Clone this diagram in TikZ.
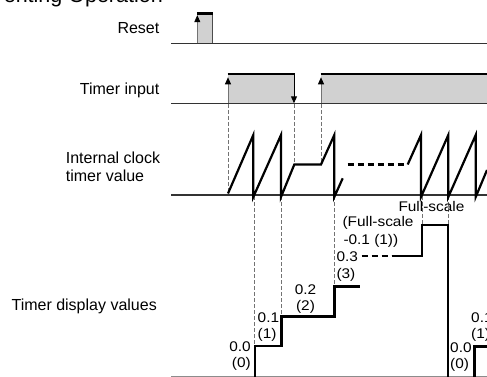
\documentclass[tikz,border=0pt]{standalone}
\usepackage{fontspec}
\setmainfont{Liberation Sans}
\newfontfamily\lblfont[FakeStretch=1.1]{Liberation Sans}
\usetikzlibrary{arrows.meta}
\begin{document}
\begin{tikzpicture}[x=1pt,y=-1pt,
  baseln/.style={line width=1.3pt, draw=black!80},
  dispbase/.style={line width=1.2pt, draw=black!45},
  sig/.style={line width=2.2pt},
  stepln/.style={line width=2.7pt},
  guide/.style={line width=0.8pt, draw=black!55, dash pattern=on 4pt off 2pt},
  dashsig/.style={line width=2.4pt, dash pattern=on 6.5pt off 3.5pt},
  pulse/.style={fill=black!18, draw=none},
  side/.style={line width=0.9pt, draw=black!70},
  uparrow/.style={line width=0.8pt, draw=black!55, -{Triangle[length=7pt,width=6pt,color=black]}},
  downarrow/.style={line width=1pt, draw=black, -{Triangle[length=7pt,width=6pt,color=black]}},
  rowlbl/.style={font=\fontsize{16}{17.5}\selectfont, inner sep=0pt},
  vallbl/.style={font=\lblfont\fontsize{14}{16}\selectfont, inner sep=0pt},
]
\useasboundingbox (0,0) rectangle (487,377);

% title (cropped)
\node[font=\fontsize{21.5}{24}\selectfont, inner sep=0pt, anchor=base east] (title) at (163,3) {enting Operation};

% row labels
\node[rowlbl, anchor=base east] (lreset) at (159.5,33.3) {Reset};
\node[rowlbl, anchor=base east] (linput) at (159.5,94.3) {Timer input};
\node[rowlbl, anchor=base west] (lclock1) at (65.7,164) {Internal clock};
\node[rowlbl, anchor=base west] (lclock2) at (65.7,181.7) {timer value};
\node[rowlbl, anchor=base east] (ldisp) at (157,310) {Timer display values};

% pulse fills
\fill[pulse] (197.3,43.3) rectangle (212.7,13.5);
\fill[pulse] (228,103.5) rectangle (294,74.3);
\fill[pulse] (321,103.5) rectangle (487,74.3);

% guides
\draw[guide] (228,104) -- (228,194);
\draw[guide] (294,104) -- (294,164.5);
\draw[guide] (321,104) -- (321,164.5);
\draw[guide] (254,196) -- (254,346);
\draw[guide] (281.5,196) -- (281.5,316.5);
\draw[guide] (334.6,196) -- (334.6,286.5);
\draw[guide] (422,196) -- (422,225);
\draw[guide] (448,196) -- (448,225);

% baselines
\draw[baseln] (171,43.3) -- (487,43.3);
\draw[baseln] (171,103.5) -- (487,103.5);
\draw[baseln] (171,195) -- (487,195);
\draw[dispbase] (171,376.4) -- (487,376.4);

% reset pulse
\draw[side] (212.7,43.3) -- (212.7,13.5);
\draw[sig] (196.8,13.5) -- (213.2,13.5);
\draw[uparrow] (197.3,43.3) -- (197.3,15.2);

% timer input pulses
\draw[sig] (227.5,74.3) -- (294.5,74.3);
\draw[downarrow] (294,74.3) -- (294,103.3);
\draw[uparrow] (228,103.5) -- (228,77.3);
\draw[sig] (320.5,74.3) -- (487,74.3);
\draw[uparrow] (321,103.5) -- (321,77.3);

% internal clock sawtooth
\draw[sig] (228,193.5) -- (253.3,135) -- (253.3,197) -- (281,135) -- (281,197)
  -- (294.3,164.5) -- (321,164.5) -- (334.3,135) -- (334.3,197) -- (342.7,178.3);
\draw[dashsig] (347.7,164.5) -- (407.7,164.5);
\draw[sig] (407.7,164.5) -- (421,135) -- (421,197) -- (448.3,135) -- (448.3,197)
  -- (475.7,135) -- (475.7,197) -- (487,170);

% display steps
\draw[stepln] (255,376.5) -- (255,346) -- (281.5,346) -- (281.5,316.5)
  -- (334.7,316.5) -- (334.7,286.5) -- (360,286.5);
\draw[dashsig, line width=2.7pt] (361.7,256) -- (391.7,256);
\draw[stepln] (391.7,256) -- (422,256) -- (422,225) -- (448,225) -- (448,376.5);
\draw[stepln] (474.7,376.5) -- (474.7,346.5) -- (487,346.5);

% value labels
\node[vallbl, anchor=base east] (v00a) at (251,351.7) {0.0};
\node[vallbl, anchor=base east] (v00b) at (251,367.7) {(0)};
\node[vallbl, anchor=base west] (v01a) at (257.5,322.3) {0.1};
\node[vallbl, anchor=base west] (v01b) at (257.5,338.3) {(1)};
\node[vallbl, anchor=base] (v02a) at (305.5,294) {0.2};
\node[vallbl, anchor=base] (v02b) at (305.5,310) {(2)};
\node[vallbl, anchor=base west] (v03a) at (336.3,261.7) {0.3};
\node[vallbl, anchor=base west] (v03b) at (336.3,278) {(3)};
\node[vallbl, anchor=base west] (vfsa) at (342.3,226.5) {(Full-scale};
\node[vallbl, anchor=base west] (vfsb) at (343.3,244.5) {-0.1 (1))};
\node[vallbl, anchor=base west] (vfs) at (398.3,211.3) {Full-scale};
\node[vallbl, anchor=base west] (v00c) at (450,352.5) {0.0};
\node[vallbl, anchor=base west] (v00d) at (450,368.7) {(0)};
\node[vallbl, anchor=base west] (v01c) at (471,322.3) {0.1};
\node[vallbl, anchor=base west] (v01d) at (471,338.3) {(1)};
\end{tikzpicture}
\end{document}
